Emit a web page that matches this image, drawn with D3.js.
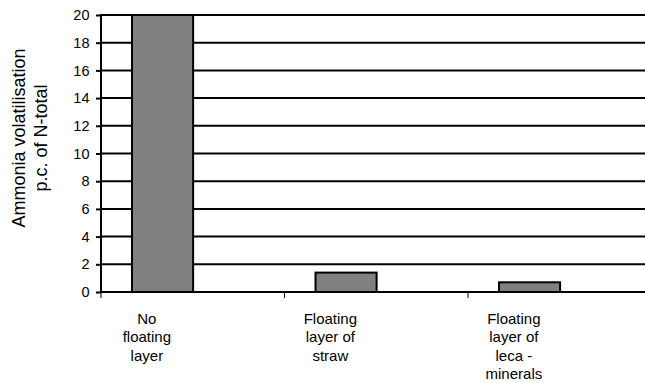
<!DOCTYPE html>
<html><head><meta charset="utf-8">
<script src="https://cdn.jsdelivr.net/npm/d3@7/dist/d3.min.js"></script>
<style>
html,body{margin:0;padding:0;background:#fff;}
svg{display:block;font-family:"Liberation Sans",Arial,sans-serif;}
</style></head>
<body>
<svg id="chart" width="645" height="383"></svg>
<script>
const categories = [
  ["No", "floating", "layer"],
  ["Floating", "layer of", "straw"],
  ["Floating", "layer of", "leca -", "minerals"]
];
const values = [20, 1.4, 0.7];
const yTicks = [0, 2, 4, 6, 8, 10, 12, 14, 16, 18, 20];
const yTitle = ["Ammonia volatilisation", "p.c. of N-total"];

const svg = d3.select("#chart");
const pLeft = 101, pTop = 15, pBottom = 292;
const keys = ["c0", "c1", "c2", "c3"];
const x = d3.scaleBand().domain(keys).range([pLeft, pLeft + 4 * 183.5]).padding(0);
const y = d3.scaleLinear().domain([0, 20]).range([pBottom, pTop]);
const bw = x.bandwidth();

// gridlines
svg.append("g").selectAll("line").data(yTicks.filter(d => d > 0)).join("line")
  .attr("x1", pLeft).attr("x2", 645)
  .attr("y1", d => y(d)).attr("y2", d => y(d))
  .attr("stroke", "#000").attr("stroke-width", 2);

// bars
svg.append("g").selectAll("rect").data(values).join("rect")
  .attr("x", (d, i) => x(keys[i]) + bw * 0.169)
  .attr("width", bw * 0.333)
  .attr("y", d => y(d))
  .attr("height", d => y(0) - y(d))
  .attr("fill", "#808080").attr("stroke", "#000").attr("stroke-width", 2);

// y axis
const yAxis = d3.axisLeft(y).tickValues(yTicks).tickSize(5).tickPadding(6.5).tickSizeOuter(0);
const gy = svg.append("g").attr("transform", `translate(${pLeft},0)`).call(yAxis);
gy.select(".domain").attr("stroke-width", 2).attr("d", `M0,${pTop - 1}V${pBottom + 1}`);
gy.selectAll(".tick line").attr("stroke-width", 2);
gy.selectAll("text").attr("font-size", 14.5).attr("fill", "#000")
  .attr("font-family", "Liberation Sans, Arial, sans-serif");

// x axis
const xAxis = d3.axisBottom(x).tickValues(keys).tickSize(6).tickFormat("").tickSizeOuter(0);
const gx = svg.append("g").attr("transform", `translate(0,${pBottom})`).call(xAxis);
gx.selectAll(".tick").attr("transform", d => `translate(${x(d)},0)`);
gx.select(".domain").attr("stroke-width", 2).attr("d", `M${pLeft},0H645`);
gx.selectAll(".tick line").attr("stroke-width", 1);

// category labels
const lab = svg.append("g").selectAll("text").data(categories).join("text")
  .attr("x", (d, i) => x(keys[i]) + bw * 0.25)
  .attr("y", pBottom + 31.5)
  .attr("text-anchor", "middle").attr("font-size", 15).attr("fill", "#000");
lab.selectAll("tspan").data(d => d).join("tspan")
  .attr("x", function () { return this.parentNode.getAttribute("x"); })
  .attr("dy", (d, i) => i === 0 ? 0 : 18.5)
  .text(d => d);

// y title
const t = svg.append("text")
  .attr("transform", `translate(25,138) rotate(-90)`)
  .attr("text-anchor", "middle").attr("font-size", 18).attr("fill", "#000");
t.selectAll("tspan").data(yTitle).join("tspan")
  .attr("x", 0).attr("dy", (d, i) => i === 0 ? 0 : 21.5).text(d => d);
</script>
</body></html>
